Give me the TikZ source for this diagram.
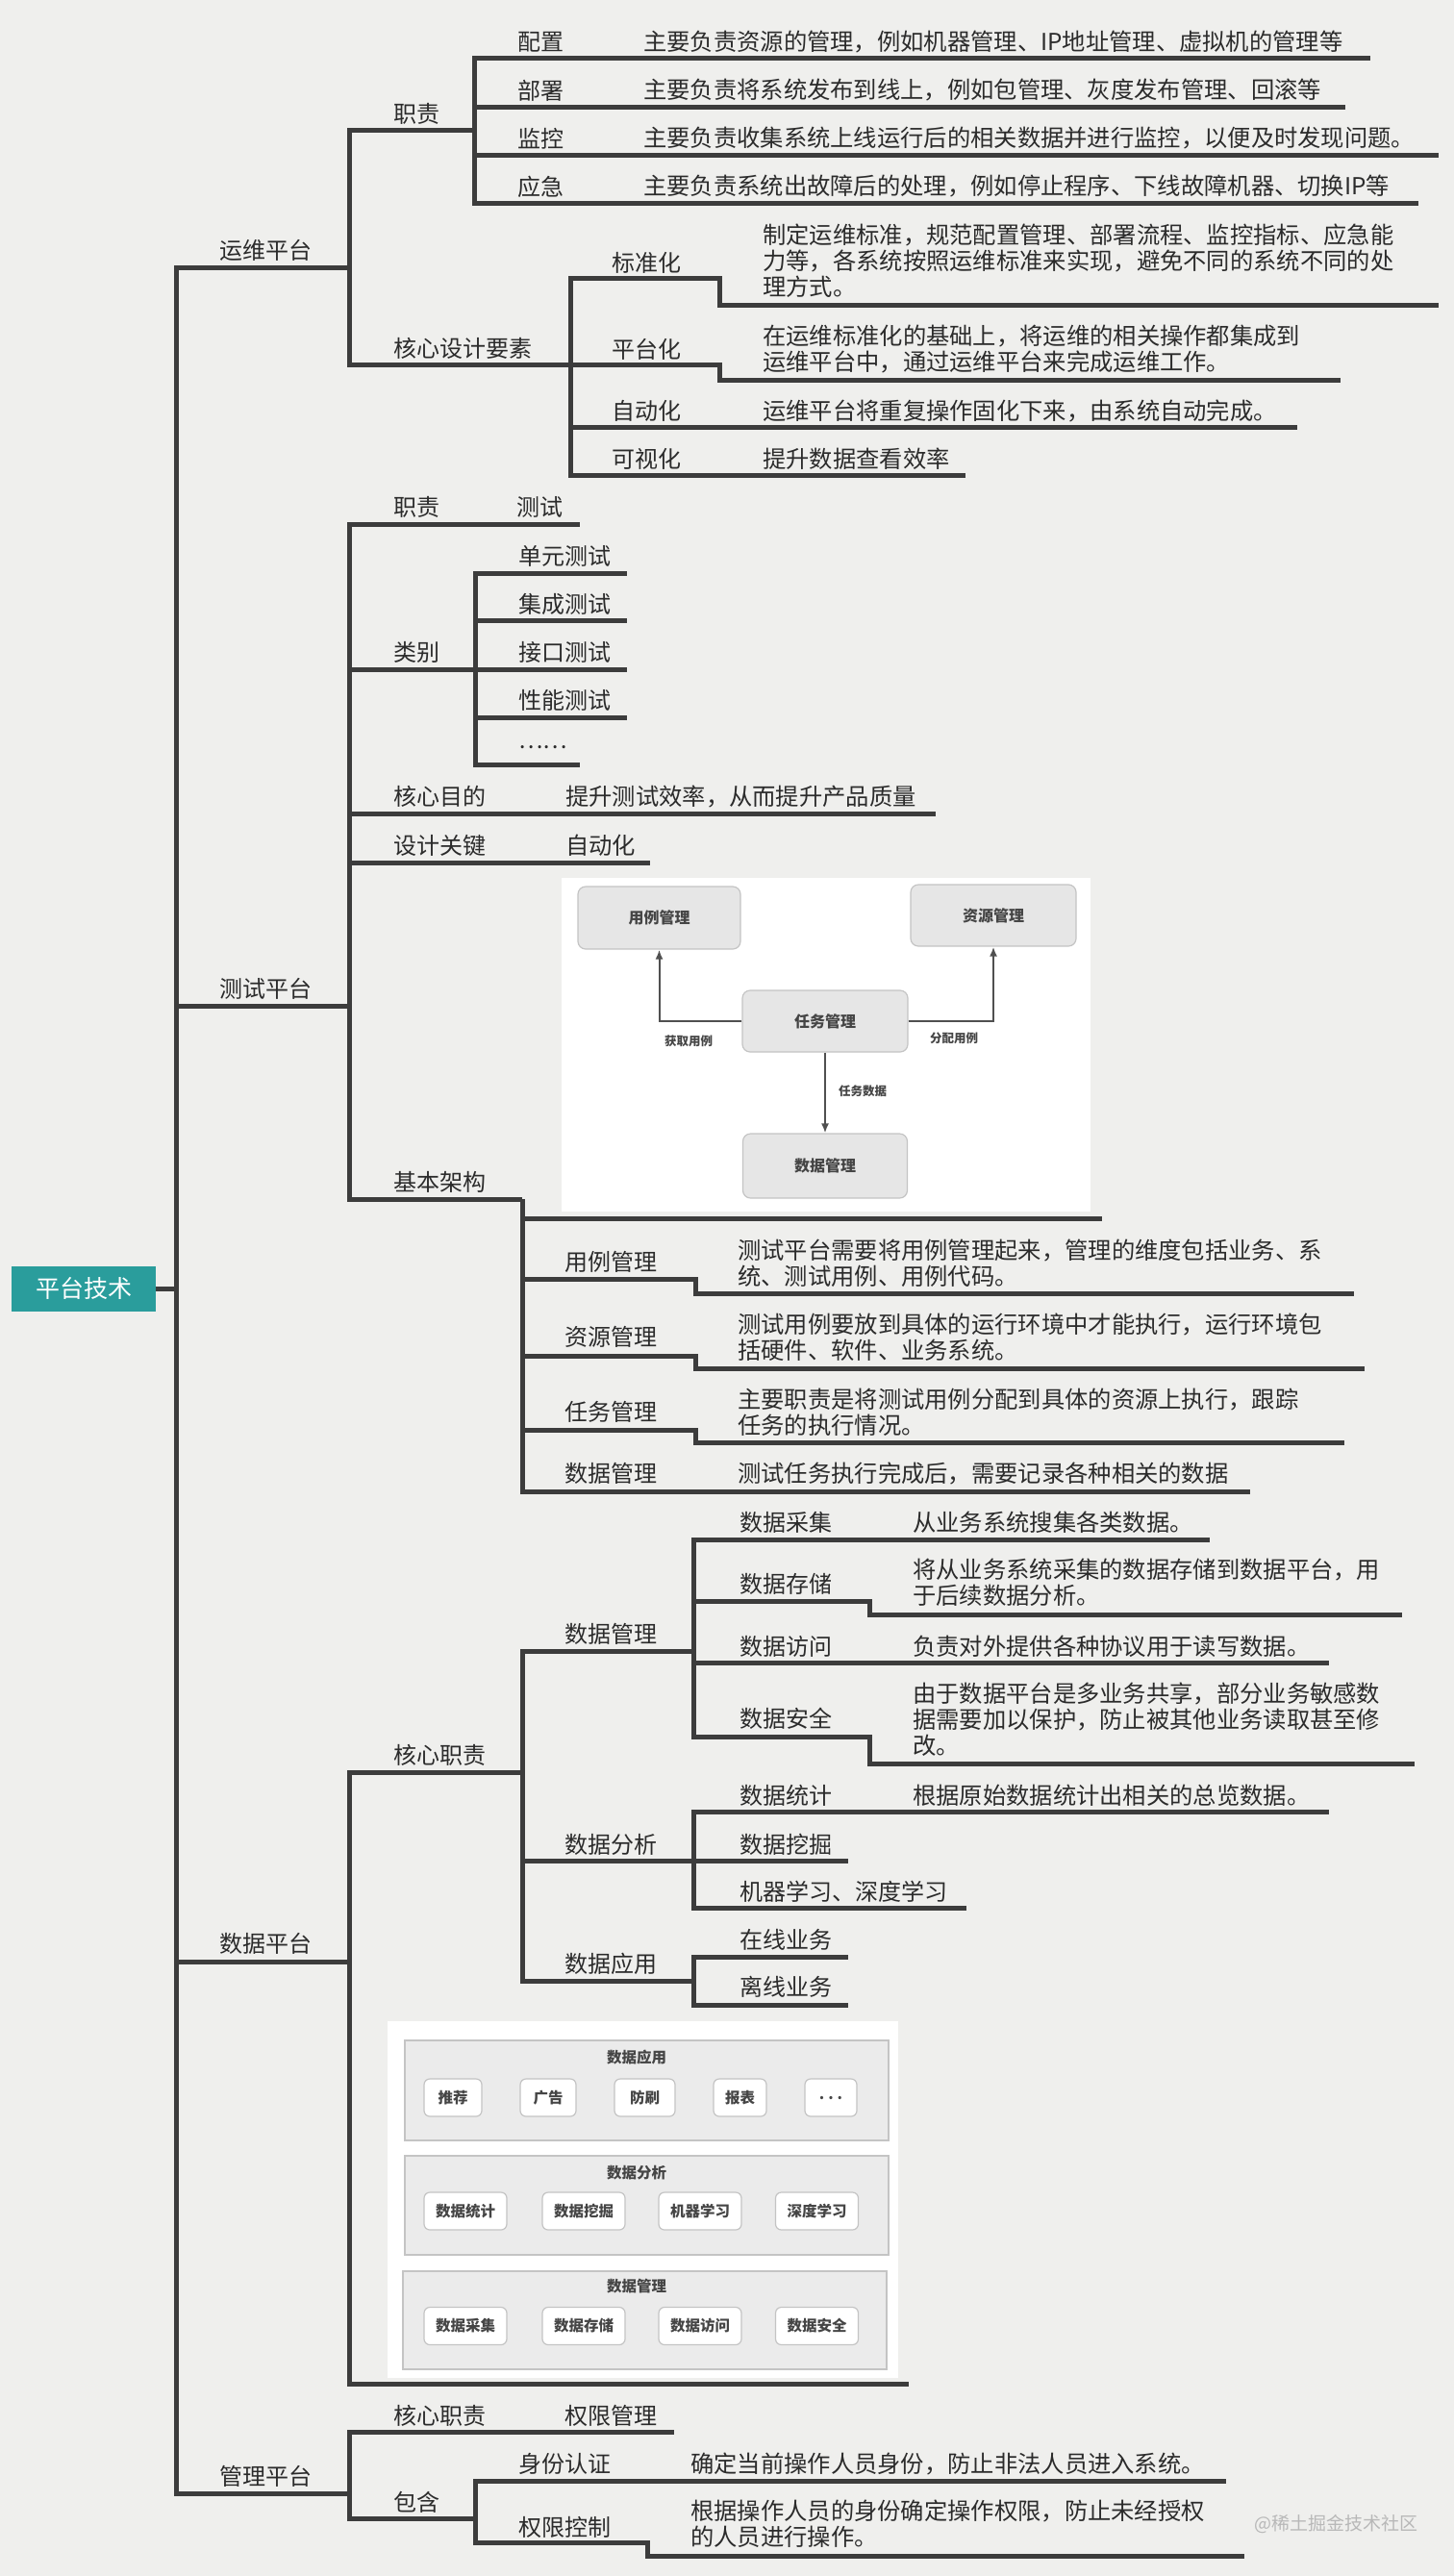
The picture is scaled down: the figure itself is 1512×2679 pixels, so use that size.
\documentclass[tikz,border=0pt]{standalone}
\usepackage{fontspec}
\setmainfont{Noto Sans CJK SC}
\usetikzlibrary{arrows.meta}
\definecolor{bg}{HTML}{EFEFED}
\definecolor{ln}{HTML}{3C3C3C}
\definecolor{txt}{HTML}{2B2B2B}
\definecolor{rootc}{HTML}{2A9D9C}
\definecolor{boxg}{HTML}{E6E6E6}
\definecolor{boxb}{HTML}{C4C4C4}
\definecolor{layg}{HTML}{EBEBEB}
\definecolor{dk}{HTML}{454545}
\definecolor{arrc}{HTML}{505050}
\definecolor{wm}{HTML}{B8B8B8}
\begin{document}
\begin{tikzpicture}[x=1pt,y=-1pt,
  br/.style={draw=ln, line width=5pt, line join=miter},
  lbl/.style={anchor=west, inner sep=0pt, font=\fontsize{24}{27}\selectfont, text=txt},
  top/.style={anchor=center, inner sep=0pt, font=\fontsize{24}{27}\selectfont, text=txt},
  dsc/.style={anchor=west, inner sep=0pt, align=left, font=\fontsize{24.3}{27}\selectfont, text=txt},
  ibox/.style={rounded corners=8pt, fill=boxg, draw=boxb, line width=1.2pt, inner sep=0pt,
    font=\bfseries\fontsize{16}{18}\selectfont, text=dk},
  alab/.style={inner sep=0pt, font=\bfseries\fontsize{12.5}{14}\selectfont, text=dk},
  arr/.style={draw=arrc, line width=2pt, -{Latex[length=10pt,width=8pt]}},
  layer/.style={fill=layg, draw=boxb, line width=1.2pt, inner sep=0pt},
  ltitle/.style={inner sep=0pt, font=\bfseries\fontsize{15.5}{17}\selectfont, text=dk},
  sbox/.style={rounded corners=6pt, fill=white, draw=boxb, line width=1.2pt, inner sep=0pt,
    minimum height=39pt, font=\bfseries\fontsize{15.5}{17}\selectfont, text=dk}
]
\fill[bg] (0,0) rectangle (1512,2679);
\useasboundingbox (0,0) rectangle (1512,2679);

% ---------- root ----------
\node[fill=rootc, minimum width=150pt, minimum height=47pt, inner sep=0pt, text=white,
      font=\fontsize{25}{28}\selectfont] (root) at (87,1340) {平台技术};
\coordinate (rj) at (183,1340);
\draw[br] (root.east) -- (rj);

% ---------- level 1 ----------
\draw[br] (rj) |- (363,278);
\draw[br] (rj) |- (363,1046);
\draw[br] (rj) |- (363,2040);
\draw[br] (rj) |- (363,2593);
\node[top] (yw) at (276,260) {运维平台};
\node[top] (cs) at (276,1028) {测试平台};
\node[top] (sj) at (276,2021) {数据平台};
\node[top] (gl) at (276,2575) {管理平台};

% ---------- 运维平台 ----------
\draw[br] (363,278) |- (493,135);
\draw[br] (363,278) |- (593,379);
\node[lbl] (ywzz) at (409,118) {职责};
\node[lbl] (ywhx) at (409,362) {核心设计要素};

\draw[br] (493,135) |- (1425,61);
\draw[br] (493,135) |- (1399,111);
\draw[br] (493,135) |- (1496,161);
\draw[br] (493,135) |- (1475,211);
\node[lbl] (pz) at (538,44) {配置};
\node[lbl] (bs) at (538,94) {部署};
\node[lbl] (jk) at (538,144) {监控};
\node[lbl] (yj) at (538,194) {应急};
\node[dsc] (pzd) at (669,44) {主要负责资源的管理，例如机器管理、IP地址管理、虚拟机的管理等};
\node[dsc] (bsd) at (669,94) {主要负责将系统发布到线上，例如包管理、灰度发布管理、回滚等};
\node[dsc] (jkd) at (669,144) {主要负责收集系统上线运行后的相关数据并进行监控，以便及时发现问题。};
\node[dsc] (yjd) at (669,194) {主要负责系统出故障后的处理，例如停止程序、下线故障机器、切换IP等};

\draw[br] (593,379) |- (748,289) |- (1496,317);
\draw[br] (593,379) |- (748,379) |- (1394,395);
\draw[br] (593,379) |- (1349,444);
\draw[br] (593,379) |- (1004,494);
\node[lbl] (bzh) at (636,273) {标准化};
\node[lbl] (pth) at (636,363) {平台化};
\node[lbl] (zdh) at (636,427) {自动化};
\node[lbl] (ksh) at (636,477) {可视化};
\node[dsc] (bzhd) at (793,271) {制定运维标准，规范配置管理、部署流程、监控指标、应急能\\力等，各系统按照运维标准来实现，避免不同的系统不同的处\\理方式。};
\node[dsc] (pthd) at (793,363.5) {在运维标准化的基础上，将运维的相关操作都集成到\\运维平台中，通过运维平台来完成运维工作。};
\node[dsc] (zdhd) at (793,427) {运维平台将重复操作固化下来，由系统自动完成。};
\node[dsc] (kshd) at (793,477) {提升数据查看效率};

% ---------- 测试平台 ----------
\draw[br] (363,1046) |- (603,545);
\draw[br] (363,1046) |- (494,696);
\draw[br] (363,1046) |- (973,846);
\draw[br] (363,1046) |- (676,897);
\draw[br] (363,1046) |- (543,1247);
\node[lbl] (cszz) at (409,527) {职责};
\node[lbl] (csts) at (537,527) {测试};
\node[lbl] (lb) at (409,678) {类别};
\node[lbl] (hxmd) at (409,828) {核心目的};
\node[dsc] (hxmdd) at (588,828) {提升测试效率，从而提升产品质量};
\node[lbl] (sjgj) at (409,879) {设计关键};
\node[dsc] (sjgjd) at (588,879) {自动化};
\node[lbl] (jbjg) at (409,1229) {基本架构};

\draw[br] (494,696) |- (652,596);
\draw[br] (494,696) |- (652,645);
\draw[br] (494,696) |- (652,696);
\draw[br] (494,696) |- (652,746);
\draw[br] (494,696) |- (603,795);
\node[lbl] (dy) at (539,578) {单元测试};
\node[lbl] (jc) at (539,628) {集成测试};
\node[lbl] (jkc) at (539,678) {接口测试};
\node[lbl] (xn) at (539,728) {性能测试};
\node[lbl] (dd) at (539,777) {……};

\draw[br] (543,1247) |- (1146,1267);
\draw[br] (543,1247) |- (723,1330) |- (1408,1345);
\draw[br] (543,1247) |- (723,1410) |- (1419,1423);
\draw[br] (543,1247) |- (723,1487) |- (1398,1500);
\draw[br] (543,1247) |- (1300,1551);
\node[lbl] (ylgl) at (587,1312) {用例管理};
\node[lbl] (zygl) at (587,1390) {资源管理};
\node[lbl] (rwgl) at (587,1468) {任务管理};
\node[lbl] (sjgl) at (587,1532) {数据管理};
\node[dsc] (ylgld) at (767,1313.5) {测试平台需要将用例管理起来，管理的维度包括业务、系\\统、测试用例、用例代码。};
\node[dsc] (zygld) at (767,1391) {测试用例要放到具体的运行环境中才能执行，运行环境包\\括硬件、软件、业务系统。};
\node[dsc] (rwgld) at (767,1468.5) {主要职责是将测试用例分配到具体的资源上执行，跟踪\\任务的执行情况。};
\node[dsc] (sjgld) at (767,1532) {测试任务执行完成后，需要记录各种相关的数据};

% test architecture image
\fill[white] (584,913) rectangle (1134,1260);
\node[ibox, minimum width=169pt, minimum height=65pt] (a1) at (685.5,954.5) {用例管理};
\node[ibox, minimum width=172pt, minimum height=64pt] (a2) at (1033,952) {资源管理};
\node[ibox, minimum width=172pt, minimum height=64pt] (a3) at (858,1062) {任务管理};
\node[ibox, minimum width=171pt, minimum height=67pt] (a4) at (858,1212.5) {数据管理};
\draw[arr] (a3.west) -| (a1.south);
\draw[arr] (a3.east) -| (a2.south);
\draw[arr] (a3.south) -- (a4.north);
\node[alab] (l1) at (716,1083) {获取用例};
\node[alab] (l2) at (992,1080) {分配用例};
\node[alab] (l3) at (897,1135) {任务数据};

% ---------- 数据平台 ----------
\draw[br] (363,2040) |- (543,1843);
\draw[br] (363,2040) |- (945,2479);
\node[lbl] (sjzz) at (409,1825) {核心职责};

\draw[br] (543,1843) |- (721,1717);
\draw[br] (543,1843) |- (721,1935);
\draw[br] (543,1843) |- (721,2060);
\node[lbl] (dm) at (587,1699) {数据管理};
\node[lbl] (da) at (587,1918) {数据分析};
\node[lbl] (dap) at (587,2042) {数据应用};

\draw[br] (721,1717) |- (1258,1601);
\draw[br] (721,1717) |- (904,1665) |- (1458,1679);
\draw[br] (721,1717) |- (1382,1729);
\draw[br] (721,1717) |- (904,1806) |- (1471,1834);
\node[lbl] (cj) at (769,1583) {数据采集};
\node[lbl] (cc) at (769,1647) {数据存储};
\node[lbl] (fw) at (769,1712) {数据访问};
\node[lbl] (aq) at (769,1787) {数据安全};
\node[dsc] (cjd) at (949,1583) {从业务系统搜集各类数据。};
\node[dsc] (ccd) at (949,1645.5) {将从业务系统采集的数据存储到数据平台，用\\于后续数据分析。};
\node[dsc] (fwd) at (949,1712) {负责对外提供各种协议用于读写数据。};
\node[dsc] (aqd) at (949,1788) {由于数据平台是多业务共享，部分业务敏感数\\据需要加以保护，防止被其他业务读取甚至修\\改。};

\draw[br] (721,1935) |- (1382,1884);
\draw[br] (721,1935) |- (882,1935);
\draw[br] (721,1935) |- (1005,1984);
\node[lbl] (tj) at (769,1867) {数据统计};
\node[dsc] (tjd) at (949,1867) {根据原始数据统计出相关的总览数据。};
\node[lbl] (wj) at (769,1918) {数据挖掘};
\node[lbl] (jq) at (769,1967) {机器学习、深度学习};

\draw[br] (721,2060) |- (882,2035);
\draw[br] (721,2060) |- (882,2085);
\node[lbl] (zx) at (769,2017) {在线业务};
\node[lbl] (lx) at (769,2066) {离线业务};

% data platform image
\fill[white] (403,2102) rectangle (934,2473);
\node[layer, minimum width=503pt, minimum height=104pt] (L1) at (672.5,2174) {};
\node[layer, minimum width=503pt, minimum height=103pt] (L2) at (672.5,2293.5) {};
\node[layer, minimum width=503pt, minimum height=102pt] (L3) at (670.5,2413) {};
\node[ltitle] (t1) at (662,2140) {数据应用};
\node[ltitle] (t2) at (662,2260) {数据分析};
\node[ltitle] (t3) at (662,2378) {数据管理};
\node[sbox, minimum width=60pt] (b11) at (471,2181.5) {推荐};
\node[sbox, minimum width=58pt] (b12) at (570,2181.5) {广告};
\node[sbox, minimum width=63pt] (b13) at (670.5,2181.5) {防刷};
\node[sbox, minimum width=55pt] (b14) at (769.5,2181.5) {报表};
\node[sbox, minimum width=54pt] (b15) at (864,2181.5) {.\hspace{4pt}.\hspace{4pt}.};
\node[sbox, minimum width=86pt] (b21) at (484,2299.5) {数据统计};
\node[sbox, minimum width=86pt] (b22) at (607,2299.5) {数据挖掘};
\node[sbox, minimum width=86pt] (b23) at (728,2299.5) {机器学习};
\node[sbox, minimum width=86pt] (b24) at (849.5,2299.5) {深度学习};
\node[sbox, minimum width=86pt] (b31) at (484,2419) {数据采集};
\node[sbox, minimum width=86pt] (b32) at (607,2419) {数据存储};
\node[sbox, minimum width=86pt] (b33) at (728,2419) {数据访问};
\node[sbox, minimum width=86pt] (b34) at (849.5,2419) {数据安全};

% ---------- 管理平台 ----------
\draw[br] (363,2593) |- (701,2529);
\draw[br] (363,2593) |- (494,2619);
\node[lbl] (glzz) at (409,2512) {核心职责};
\node[lbl] (qxgl) at (587,2512) {权限管理};
\node[lbl] (bh) at (409,2602) {包含};

\draw[br] (494,2619) |- (1275,2580);
\draw[br] (494,2619) |- (673,2644) |- (1294,2658);
\node[lbl] (sfrz) at (539,2562) {身份认证};
\node[lbl] (qxkz) at (539,2628) {权限控制};
\node[dsc] (sfrzd) at (718,2562) {确定当前操作人员身份，防止非法人员进入系统。};
\node[dsc] (qxkzd) at (718,2625) {根据操作人员的身份确定操作权限，防止未经授权\\的人员进行操作。};

% watermark
\node[inner sep=0pt, text=wm, font=\fontsize{19}{21}\selectfont] (wmk) at (1389,2625) {@稀土掘金技术社区};
\end{tikzpicture}
\end{document}
